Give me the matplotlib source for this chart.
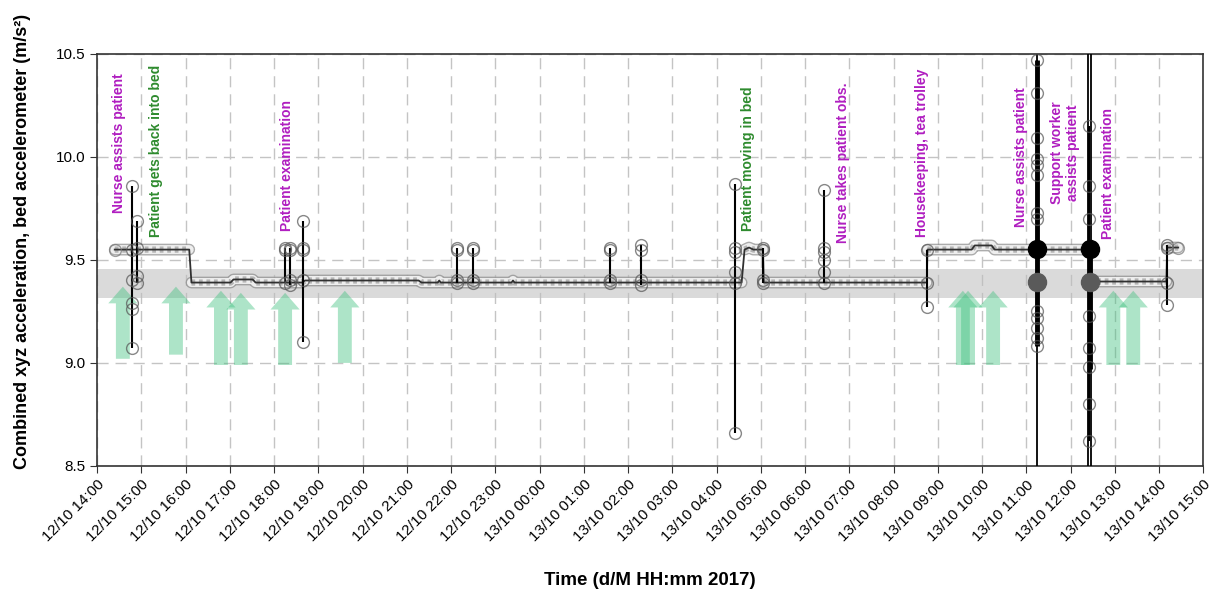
import numpy as np
import pandas as pd
import matplotlib
matplotlib.use('Agg')
import matplotlib.pyplot as plt
import matplotlib.dates as mdates

plt.rcParams['font.family'] = ['Liberation Sans', 'DejaVu Sans']

# slow trace of the bed level (combined xyz, m/s^2)
level_times = [
    "2017-10-12 14:24", "2017-10-12 16:05", "2017-10-12 16:08", "2017-10-12 17:01",
    "2017-10-12 17:05", "2017-10-12 17:31", "2017-10-12 17:35", "2017-10-12 18:38",
    "2017-10-12 18:42", "2017-10-12 21:16", "2017-10-12 21:20", "2017-10-12 21:42",
    "2017-10-12 21:44", "2017-10-12 21:46", "2017-10-12 23:22", "2017-10-12 23:24",
    "2017-10-12 23:26", "2017-10-13 04:34", "2017-10-13 04:38", "2017-10-13 04:44",
    "2017-10-13 04:50", "2017-10-13 05:03", "2017-10-13 05:04", "2017-10-13 08:45",
    "2017-10-13 08:46", "2017-10-13 09:46", "2017-10-13 09:50", "2017-10-13 10:13",
    "2017-10-13 10:17", "2017-10-13 12:25", "2017-10-13 12:26", "2017-10-13 14:10",
    "2017-10-13 14:11", "2017-10-13 14:26",
]
level_vals = [
    9.55, 9.55, 9.39, 9.39,
    9.405, 9.405, 9.39, 9.39,
    9.40, 9.40, 9.39, 9.39,
    9.40, 9.39, 9.39, 9.40,
    9.39, 9.39, 9.55, 9.56,
    9.55, 9.55, 9.39, 9.39,
    9.55, 9.55, 9.57, 9.57,
    9.55, 9.55, 9.395, 9.395,
    9.56, 9.56,
]

# short movements: time, samples logged at that time
spike_times = [
    "2017-10-12 14:47", "2017-10-12 14:54", "2017-10-12 18:15", "2017-10-12 18:22",
    "2017-10-12 18:39", "2017-10-12 22:08", "2017-10-12 22:30", "2017-10-13 01:36",
    "2017-10-13 02:18", "2017-10-13 04:25", "2017-10-13 05:03", "2017-10-13 06:26",
    "2017-10-13 08:46", "2017-10-13 11:15", "2017-10-13 12:25", "2017-10-13 14:11",
]
spike_vals = [
    [9.86, 9.55, 9.40, 9.29, 9.26, 9.07],
    [9.69, 9.56, 9.42, 9.39],
    [9.56, 9.55, 9.39],
    [9.56, 9.55, 9.40, 9.38],
    [9.69, 9.56, 9.55, 9.40, 9.10],
    [9.56, 9.55, 9.40, 9.39],
    [9.56, 9.55, 9.40, 9.39],
    [9.56, 9.55, 9.40, 9.39],
    [9.57, 9.55, 9.40, 9.38],
    [9.87, 9.56, 9.54, 9.44, 9.39, 8.66],
    [9.56, 9.55, 9.40, 9.39],
    [9.84, 9.56, 9.54, 9.50, 9.44, 9.39],
    [9.55, 9.39, 9.27],
    [10.47, 10.31, 10.09, 9.99, 9.96, 9.91, 9.73, 9.70, 9.55, 9.39,
     9.25, 9.22, 9.17, 9.12, 9.08],
    [10.15, 9.86, 9.70, 9.55, 9.39, 9.23, 9.07, 8.98, 8.80, 8.62],
    [9.57, 9.56, 9.39, 9.28],
]

# long disturbances that run off the scale
burst_times = ["2017-10-13 11:15", "2017-10-13 12:24", "2017-10-13 12:28"]
burst_core_times = ["2017-10-13 11:15", "2017-10-13 12:26"]
burst_core_lo = [9.08, 8.97]
burst_core_hi = [10.47, 9.56]
burst_high = [9.555, 9.555]
burst_low = [9.395, 9.395]

# reference band
band_lo = 9.316
band_hi = 9.456

# arrows marking observed events
arrow_times = [
    "2017-10-12 14:35", "2017-10-12 15:47", "2017-10-12 16:48", "2017-10-12 17:15",
    "2017-10-12 18:15", "2017-10-12 19:36", "2017-10-13 09:34", "2017-10-13 09:41",
    "2017-10-13 10:15", "2017-10-13 12:58", "2017-10-13 13:25",
]
arrow_base = [9.02, 9.04, 8.99, 8.99, 8.99, 9.00, 8.99, 8.99, 8.99, 8.99, 8.99]
arrow_tip = [9.37, 9.37, 9.35, 9.34, 9.34, 9.35, 9.35, 9.35, 9.35, 9.35, 9.35]

# event notes
note_text = [
    "Nurse assists patient", "Patient gets back into bed", "Patient examination",
    "Patient moving in bed", "Nurse takes patient obs.", "Housekeeping, tea trolley",
    "Nurse assists patient", "Support worker\nassists patient", "Patient examination",
]
note_times = [
    "2017-10-12 14:30", "2017-10-12 15:20", "2017-10-12 18:17",
    "2017-10-13 04:43", "2017-10-13 06:52", "2017-10-13 08:39",
    "2017-10-13 10:53", "2017-10-13 11:53", "2017-10-13 12:51",
]
note_vals = [9.73, 9.61, 9.64, 9.64, 9.58, 9.61, 9.66, 9.77, 9.60]
note_by_patient = [False, True, False, True, False, False, False, False, False]

lt = pd.to_datetime(level_times).to_pydatetime()
lv = np.array(level_vals)

fig = plt.figure(figsize=(12.13, 5.92), dpi=100)
ax = fig.add_axes([0.080, 0.213, 0.912, 0.696])

ax.grid(True, ls=(0, (8, 5)), color='#c4c4c4', lw=1)
ax.set_axisbelow(True)
ax.axhspan(band_lo, band_hi, color='#bdbdbd', alpha=0.55, lw=0, zorder=1)

# arrows
for t, b, tip in zip(pd.to_datetime(arrow_times).to_pydatetime(), arrow_base, arrow_tip):
    ax.annotate('', xy=(t, tip), xytext=(t, b),
                arrowprops=dict(arrowstyle='simple,head_length=0.6,head_width=1.05,tail_width=0.5',
                                mutation_scale=20, fc='#3cc07c', ec='none', alpha=0.42,
                                shrinkA=0, shrinkB=0), zorder=2)

# textured band along the flat runs of the level trace
tx, ty = [], []
for i in range(len(lt)):
    if i > 0 and abs(lv[i] - lv[i - 1]) > 0.05:
        tx.append(lt[i])
        ty.append(np.nan)
    tx.append(lt[i])
    ty.append(lv[i])
ax.plot(tx, ty, color='#909090', lw=8.5, alpha=0.75, solid_capstyle='round', zorder=3)
ax.plot(tx, ty, color='#eeeeee', lw=6.5, solid_capstyle='round', zorder=3)
ax.plot(tx, ty, color='#b4b4b4', lw=4.5, ls=(0, (0.6, 0.6)), zorder=3)
ax.plot(lt, lv, color='#303030', lw=1.3, zorder=4)

# off-scale disturbances
for t in pd.to_datetime(burst_times).to_pydatetime():
    ax.axvline(t, color='black', lw=1.3, zorder=5)
bct = pd.to_datetime(burst_core_times).to_pydatetime()
ax.vlines(bct, burst_core_lo, burst_core_hi, color='black', lw=3.5, zorder=5)

# spikes
st = pd.to_datetime(spike_times).to_pydatetime()
for t, vals in zip(st, spike_vals):
    ax.vlines(t, min(vals), max(vals), color='black', lw=1.5, zorder=5)
    ax.plot([t] * len(vals), vals, 'o', ms=8.5, mfc='none', mec='#555555',
            mew=1.0, alpha=0.7, zorder=6)
ax.plot(lt[[0, -1]], lv[[0, -1]], 'o', ms=8.5, mfc='none', mec='#777777', mew=1.0, alpha=0.7, zorder=6)

ax.plot(bct, burst_high, 'o', ms=13, color='black', zorder=7)
ax.plot(bct, burst_low, 'o', ms=13, color='#5a5a5a', zorder=7)

# notes
for txt, t, v, pat in zip(note_text, pd.to_datetime(note_times).to_pydatetime(), note_vals, note_by_patient):
    ax.text(t, v, txt, rotation=90, ha='center', va='bottom', multialignment='center',
            fontsize=10, fontweight='bold', color='#2e8b2e' if pat else '#b01ec0',
            linespacing=1.2, zorder=8)

ax.set_xlim(pd.Timestamp("2017-10-12 14:00"), pd.Timestamp("2017-10-13 15:00"))
ax.set_ylim(8.5, 10.5)
ax.set_yticks([8.5, 9.0, 9.5, 10.0, 10.5])
ax.yaxis.set_major_formatter(matplotlib.ticker.FormatStrFormatter('%.1f'))
ax.xaxis.set_major_locator(mdates.HourLocator(interval=1))
ax.xaxis.set_major_formatter(mdates.DateFormatter('%d/%m %H:%M'))
ax.tick_params(direction='out', length=5, labelsize=11, color='#333333')
for lab in ax.get_xticklabels():
    lab.set_rotation(45)
    lab.set_ha('right')
    lab.set_rotation_mode('anchor')

for sp in ax.spines.values():
    sp.set_color('#333333')
    sp.set_linewidth(1.2)

ax.set_xlabel("Time (d/M HH:mm 2017)", fontsize=13.5, fontweight='bold', labelpad=20)
ax.set_ylabel("Combined xyz acceleration, bed accelerometer (m/s²)", fontsize=13, fontweight='bold')
ax.yaxis.set_label_coords(-0.060, 0.545)

fig.savefig('out.png', dpi=100)
